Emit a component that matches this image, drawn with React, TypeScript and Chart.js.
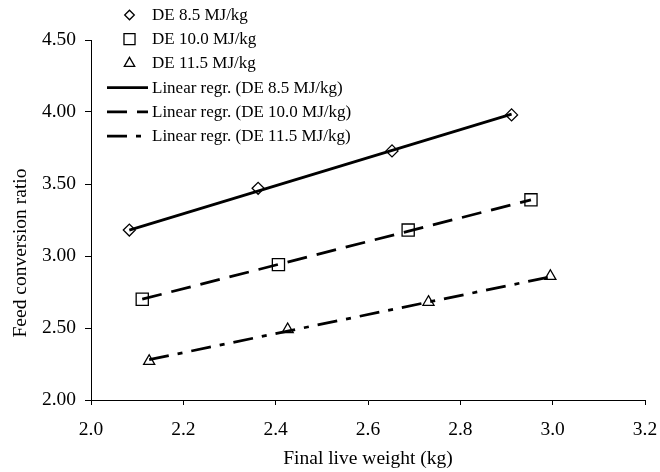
import React, { useEffect, useRef } from 'react';
import { Chart, registerables } from 'chart.js';

Chart.register(...registerables);

// Axis ticks
const xTicks = [2.0, 2.2, 2.4, 2.6, 2.8, 3.0, 3.2];
const yTicks = [2.0, 2.5, 3.0, 3.5, 4.0, 4.5];

// Observed points
const de85X = [2.083, 2.362, 2.652, 2.911];
const de85Y = [3.18, 3.47, 3.73, 3.98];
const de100X = [2.111, 2.406, 2.687, 2.953];
const de100Y = [2.7, 2.94, 3.18, 3.39];
const de115X = [2.126, 2.426, 2.731, 2.995];
const de115Y = [2.27, 2.49, 2.68, 2.86];

// Regression line end points
const regr85X = [2.083, 2.911];
const regr85Y = [3.18, 3.985];
const regr100X = [2.111, 2.953];
const regr100Y = [2.7, 3.39];
const regr115X = [2.126, 2.995];
const regr115Y = [2.28, 2.855];

const seriesLabels = [
  'DE 8.5 MJ/kg',
  'DE 10.0 MJ/kg',
  'DE 11.5 MJ/kg',
  'Linear regr. (DE 8.5 MJ/kg)',
  'Linear regr. (DE 10.0 MJ/kg)',
  'Linear regr. (DE 11.5 MJ/kg)',
];

const xTitle = 'Final live weight (kg)';
const yTitle = 'Feed conversion ratio';

const FONT = '"Liberation Serif", "Times New Roman", serif';
const AXIS_SIZE = 19.5;
const LEGEND_SIZE = 17;

const pts = (xs: number[], ys: number[]) => xs.map((x, i) => ({ x, y: ys[i] }));

function drawMarker(ctx: CanvasRenderingContext2D, style: string, x: number, y: number, r: number) {
  ctx.beginPath();
  if (style === 'rectRot') {
    ctx.moveTo(x - r, y);
    ctx.lineTo(x, y - r);
    ctx.lineTo(x + r, y);
    ctx.lineTo(x, y + r);
    ctx.closePath();
  } else if (style === 'rect') {
    const h = r * Math.SQRT1_2;
    ctx.rect(x - h, y - h, 2 * h, 2 * h);
  } else {
    const a = (2 * Math.PI) / 3;
    ctx.moveTo(x, y - r);
    ctx.lineTo(x + Math.sin(a) * r, y - Math.cos(a) * r);
    ctx.lineTo(x + Math.sin(2 * a) * r, y - Math.cos(2 * a) * r);
    ctx.closePath();
  }
  ctx.stroke();
}

const legendPlugin = {
  id: 'customLegend',
  afterDraw(chart: any) {
    const ctx: CanvasRenderingContext2D = chart.ctx;
    ctx.save();
    ctx.font = `${LEGEND_SIZE}px ${FONT}`;
    ctx.textBaseline = 'middle';
    ctx.textAlign = 'left';
    ctx.fillStyle = '#000';
    ctx.strokeStyle = '#000';
    const legendR: Record<string, number> = { rectRot: 4.8, rect: 7.8, triangle: 6 };
    chart.data.datasets.forEach((ds: any, i: number) => {
      const y = 15 + i * 24.2;
      if (ds.showLine) {
        ctx.lineWidth = ds.borderWidth;
        ctx.setLineDash(ds.borderDash || []);
        ctx.beginPath();
        ctx.moveTo(107, y);
        ctx.lineTo(148, y);
        ctx.stroke();
        ctx.setLineDash([]);
      } else {
        ctx.lineWidth = ds.pointBorderWidth;
        drawMarker(ctx, ds.pointStyle, 129.5, y, legendR[ds.pointStyle]);
      }
      ctx.fillText(ds.label, 152, y + 0.5);
    });
    // y axis title
    ctx.font = `${AXIS_SIZE}px ${FONT}`;
    ctx.textAlign = 'center';
    ctx.translate(21, 253);
    ctx.rotate(-Math.PI / 2);
    ctx.fillText(yTitle, 0, 0);
    ctx.restore();
  },
};

export default function App() {
  const ref = useRef<HTMLCanvasElement>(null);

  useEffect(() => {
    if (!ref.current) return;
    const markerBase = {
      type: 'scatter' as const,
      showLine: false,
      borderColor: '#000',
      backgroundColor: 'rgba(0,0,0,0)',
      pointBorderColor: '#000',
      pointBackgroundColor: 'rgba(0,0,0,0)',
      pointBorderWidth: 1.3,
    };
    const lineBase = {
      type: 'scatter' as const,
      showLine: true,
      borderColor: '#000',
      backgroundColor: '#000',
      borderWidth: 2.75,
      pointRadius: 0,
      pointHoverRadius: 0,
      fill: false,
    };
    const chart = new Chart(ref.current, {
      type: 'scatter',
      data: {
        datasets: [
          { ...markerBase, label: seriesLabels[0], data: pts(de85X, de85Y), pointStyle: 'rectRot', pointRadius: 6 },
          { ...markerBase, label: seriesLabels[1], data: pts(de100X, de100Y), pointStyle: 'rect', pointRadius: 8.6 },
          { ...markerBase, label: seriesLabels[2], data: pts(de115X, de115Y), pointStyle: 'triangle', pointRadius: 6.4 },
          { ...lineBase, label: seriesLabels[3], data: pts(regr85X, regr85Y), borderDash: [] },
          { ...lineBase, label: seriesLabels[4], data: pts(regr100X, regr100Y), borderDash: [20, 10] },
          { ...lineBase, label: seriesLabels[5], data: pts(regr115X, regr115Y), borderDash: [20, 9, 5, 9] },
        ] as any,
      },
      options: {
        responsive: false,
        animation: false,
        devicePixelRatio: 1,
        layout: { padding: { top: 40, right: 15, bottom: 0, left: 0 } },
        plugins: { legend: { display: false }, tooltip: { enabled: false } },
        scales: {
          x: {
            type: 'linear',
            position: 'bottom',
            min: xTicks[0],
            max: xTicks[xTicks.length - 1],
            afterBuildTicks: (s: any) => {
              s.ticks = xTicks.map((v) => ({ value: v }));
            },
            afterFit: (s: any) => {
              s.height = 72;
              s.paddingLeft = 0;
              s.paddingRight = 0;
            },
            ticks: {
              callback: (v: any) => Number(v).toFixed(1),
              color: '#000',
              font: { family: FONT, size: AXIS_SIZE },
              padding: 13,
              maxRotation: 0,
              autoSkip: false,
            },
            grid: { drawOnChartArea: false, drawTicks: true, tickLength: 5, color: '#000', lineWidth: 1 },
            border: { display: true, color: '#000', width: 1 },
            title: {
              display: true,
              text: xTitle,
              color: '#000',
              font: { family: FONT, size: AXIS_SIZE },
              padding: { top: 0, bottom: 1 },
            },
          },
          y: {
            type: 'linear',
            position: 'left',
            min: yTicks[0],
            max: yTicks[yTicks.length - 1],
            afterBuildTicks: (s: any) => {
              s.ticks = yTicks.map((v) => ({ value: v }));
            },
            afterFit: (s: any) => {
              s.width = 91;
              s.paddingTop = 0;
              s.paddingBottom = 0;
            },
            ticks: {
              callback: (v: any) => Number(v).toFixed(2),
              color: '#000',
              font: { family: FONT, size: AXIS_SIZE },
              padding: 9,
              autoSkip: false,
            },
            grid: { drawOnChartArea: false, drawTicks: true, tickLength: 6, color: '#000', lineWidth: 1 },
            border: { display: true, color: '#000', width: 1 },
          },
        },
      },
      plugins: [legendPlugin],
    });
    return () => chart.destroy();
  }, []);

  return (
    <div style={{ position: 'absolute', left: 0, top: 0, width: 660, height: 472, background: '#fff' }}>
      <canvas ref={ref} width={660} height={472} style={{ display: 'block' }} />
    </div>
  );
}
